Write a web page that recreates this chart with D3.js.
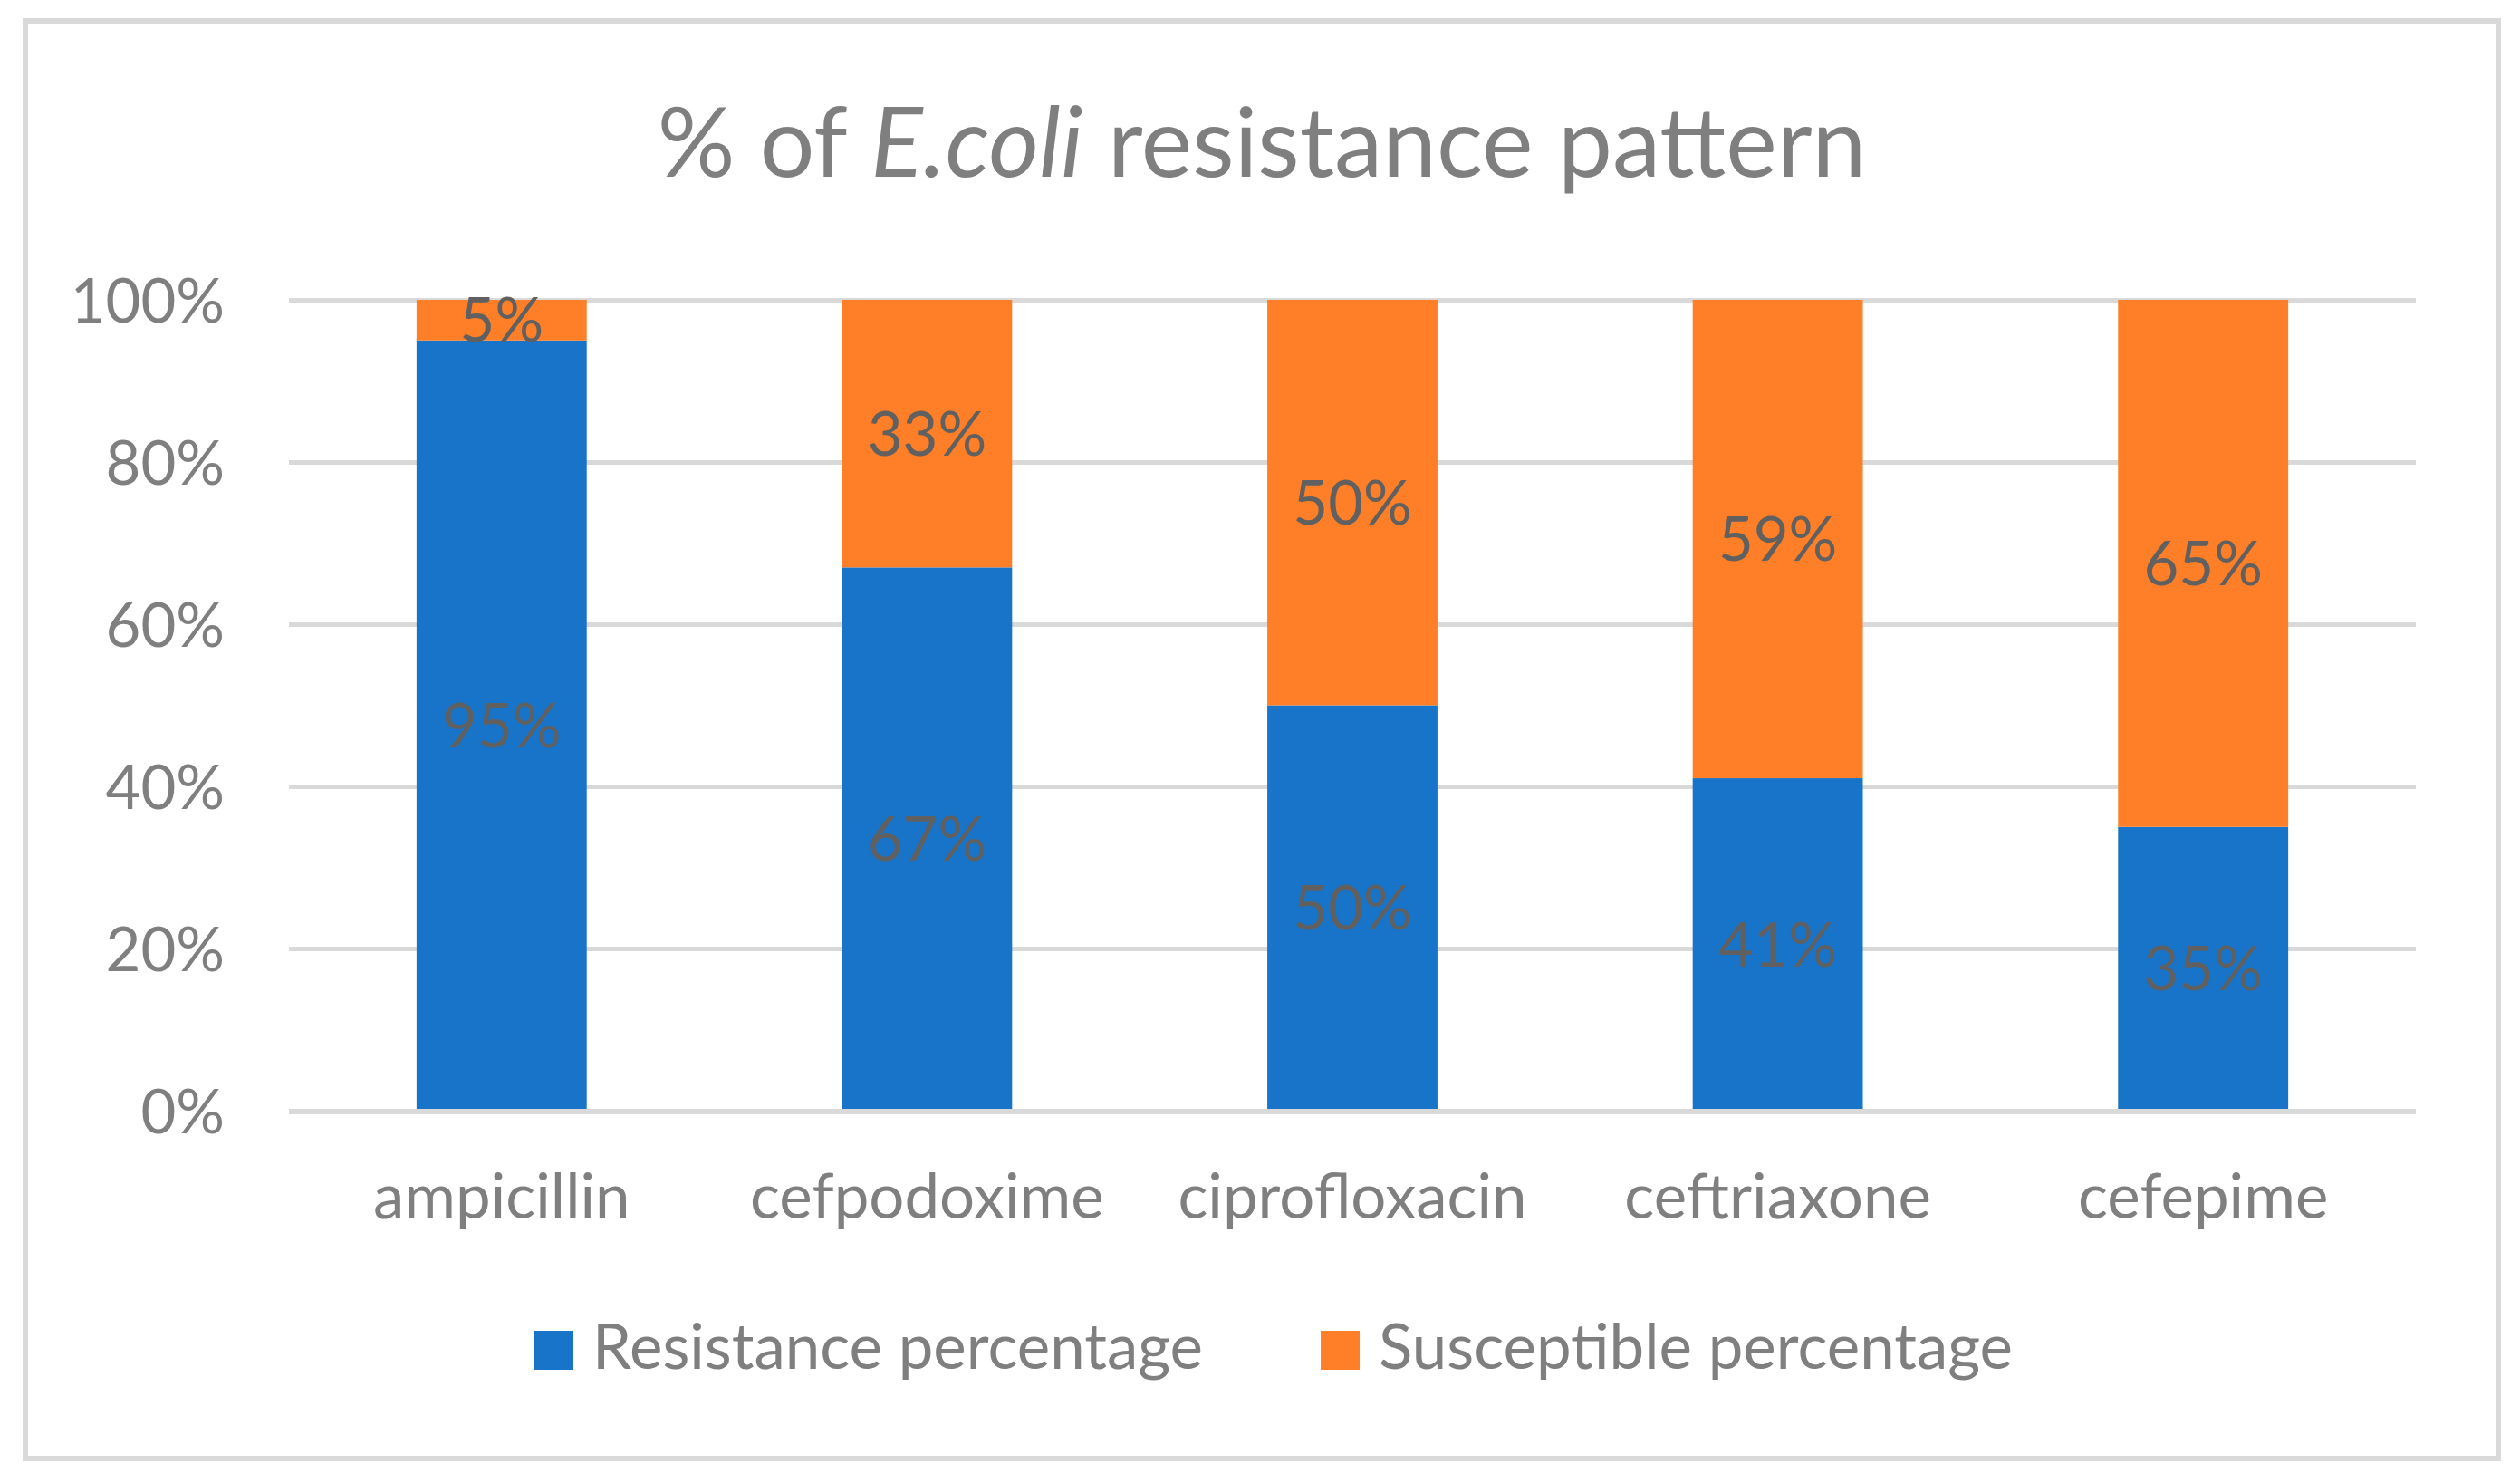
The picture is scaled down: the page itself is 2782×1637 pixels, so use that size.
<!DOCTYPE html>
<html>
<head>
<meta charset="utf-8">
<script src="https://cdn.jsdelivr.net/npm/d3@7"></script>
<style>
  html, body { margin: 0; padding: 0; background: #ffffff; }
  svg { display: block; }
  text { font-family: Lato, "Open Sans", sans-serif; }
</style>
</head>
<body>
<svg id="chart" width="2782" height="1637"></svg>
<script>
// ---- data ----
const categories = ["ampicillin", "cefpodoxime", "ciprofloxacin", "ceftriaxone", "cefepime"];
const resistance = [95, 67, 50, 41, 35];
const susceptible = [5, 33, 50, 59, 65];
const seriesNames = ["Resistance percentage", "Susceptible percentage"];
const seriesColors = ["#1874c9", "#fe7f27"];
const yTicks = [0, 20, 40, 60, 80, 100];
const titleParts = [
  { text: "% of ", italic: false },
  { text: "E.coli", italic: true },
  { text: " resistance pattern", italic: false }
];

// ---- layout ----
const W = 2782, H = 1637;
const plot = { left: 319, right: 2667, top: 331, bottom: 1226 };
const axisColor = "#7f7f7f";
const labelColor = "#606060";
const gridColor = "#d9d9d9";
const fs = 67;      // tick + data labels
const fsCat = 69;   // category + legend labels

const svg = d3.select("#chart");

// outer border
svg.append("rect")
  .attr("x", 28).attr("y", 23)
  .attr("width", 2758 - 28).attr("height", 1610 - 23)
  .attr("fill", "#ffffff")
  .attr("stroke", gridColor).attr("stroke-width", 6);

// title
const title = svg.append("text")
  .attr("x", 1393).attr("y", 195)
  .attr("text-anchor", "middle")
  .attr("fill", axisColor)
  .style("font-size", "107px");
title.selectAll("tspan").data(titleParts).enter().append("tspan")
  .style("font-style", d => d.italic ? "italic" : "normal")
  .text(d => d.text);

// scales
const x = d3.scaleBand().domain(categories)
  .range([plot.left, plot.right]).paddingInner(0.6).paddingOuter(0.3);
const y = d3.scaleLinear().domain([0, 100]).range([plot.bottom, plot.top]);

// gridlines + y tick labels
const yAxis = d3.axisLeft(y).tickValues(yTicks)
  .tickSize(-(plot.right - plot.left)).tickPadding(71)
  .tickFormat(d => d + "%");
const gy = svg.append("g").attr("transform", `translate(${plot.left},0)`).call(yAxis);
gy.select(".domain").remove();
gy.selectAll(".tick line").attr("stroke", gridColor).attr("stroke-width", 5);
gy.selectAll(".tick text")
  .attr("fill", axisColor).attr("font-family", null)
  .style("font-size", fs + "px").attr("dy", "0.36em");

// stacked data
const table = categories.map((c, i) => ({ cat: c, r: resistance[i], s: susceptible[i] }));
const stack = d3.stack().keys(["r", "s"]);
const layers = stack(table);

const gBars = svg.append("g");
layers.forEach((layer, li) => {
  gBars.selectAll(null).data(layer).enter().append("rect")
    .attr("x", d => x(d.data.cat))
    .attr("width", x.bandwidth())
    .attr("y", d => y(d[1]))
    .attr("height", d => y(d[0]) - y(d[1]))
    .attr("fill", seriesColors[li]);
});

// x axis line (on top of bars)
svg.append("line")
  .attr("x1", plot.left).attr("x2", plot.right)
  .attr("y1", y(0) + 1).attr("y2", y(0) + 1)
  .attr("stroke", gridColor).attr("stroke-width", 6);

// data labels
layers.forEach((layer, li) => {
  svg.selectAll(null).data(layer).enter().append("text")
    .attr("x", d => x(d.data.cat) + x.bandwidth() / 2)
    .attr("y", d => (y(d[0]) + y(d[1])) / 2)
    .attr("dy", "0.36em")
    .attr("text-anchor", "middle")
    .attr("fill", labelColor)
    .style("font-size", fs + "px")
    .text(d => (d[1] - d[0]) + "%");
});

// category labels
svg.selectAll(null).data(categories).enter().append("text")
  .attr("x", d => x(d) + x.bandwidth() / 2)
  .attr("y", 1345)
  .attr("text-anchor", "middle")
  .attr("fill", axisColor)
  .style("font-size", fsCat + "px")
  .text(d => d);

// legend
const legend = svg.append("g");
const items = legend.selectAll("g").data(seriesNames).enter().append("g");
items.append("rect").attr("width", 43).attr("height", 43).attr("y", 1469)
  .attr("fill", (d, i) => seriesColors[i]);
items.append("text").attr("y", 1511).attr("fill", axisColor)
  .style("font-size", fsCat + "px").text(d => d);
const widths = [];
items.each(function () {
  widths.push(d3.select(this).select("text").node().getComputedTextLength());
});
const sqGap = 21, itemGap = 130, sq = 43;
const total = widths.reduce((a, w) => a + sq + sqGap + w, 0) + itemGap * (widths.length - 1);
let cursor = 1406 - total / 2;
items.each(function (d, i) {
  const g = d3.select(this);
  g.select("rect").attr("x", cursor);
  g.select("text").attr("x", cursor + sq + sqGap);
  cursor += sq + sqGap + widths[i] + itemGap;
});
</script>
</body>
</html>
